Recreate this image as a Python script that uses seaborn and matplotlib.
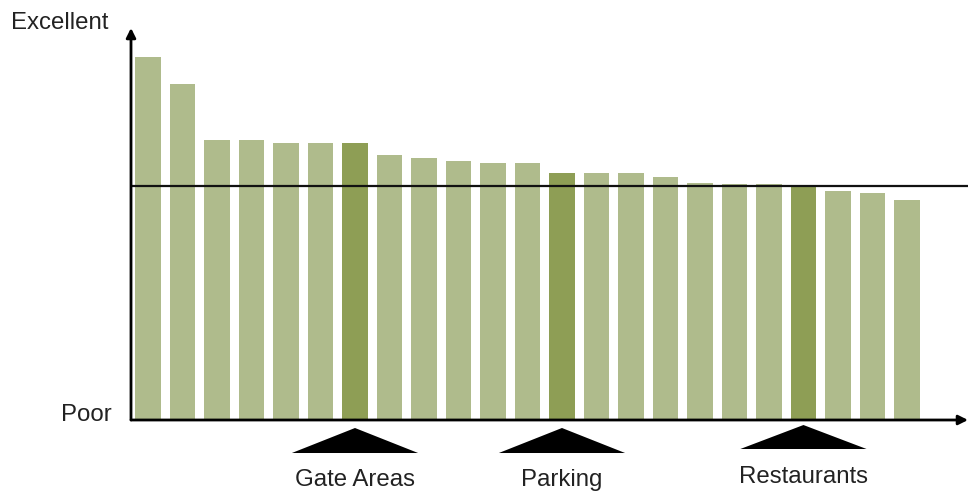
import matplotlib
matplotlib.use("Agg")
import matplotlib.pyplot as plt
import matplotlib.transforms as mtransforms
from matplotlib.patches import Polygon
import seaborn as sns
import pandas as pd

# ---- data ----
scores = [92.6, 85.7, 71.4, 71.4, 70.7, 70.7, 70.7, 67.6, 66.8, 66.1, 65.6, 65.6,
          63.0, 63.0, 63.0, 62.0, 60.5, 60.2, 60.2, 59.5, 58.4, 57.9, 56.1]
average_score = 59.6
highlight_idx = [6, 12, 19]
highlight_names = ["Gate Areas", "Parking", "Restaurants"]
y_top_label = "Excellent"
y_bottom_label = "Poor"

# ---- style ----
sns.set_style("white")
plt.rcParams["font.family"] = ["Liberation Sans", "DejaVu Sans"]

light = "#afbb8c"
dark = "#8e9e55"

df = pd.DataFrame({
    "item": list(range(len(scores))),
    "score": scores,
    "group": ["focus" if i in highlight_idx else "other" for i in range(len(scores))],
})

W, H = 968, 492
fig = plt.figure(figsize=(W / 100, H / 100), dpi=100)
ax = fig.add_axes([131 / W, (H - 420) / H, (W - 131) / W, (420 - 28) / H])

sns.barplot(data=df, x="item", y="score", hue="group",
            palette={"focus": dark, "other": light}, dodge=False,
            width=0.75, legend=False, ax=ax, saturation=1, linewidth=0)

ax.set_xlim(-0.493, 23.77)
ax.set_ylim(0, 100)
ax.set_xticks([])
ax.set_yticks([])
ax.set_xlabel("")
ax.set_ylabel("")
for s in ax.spines.values():
    s.set_visible(False)

# average line
ax.axhline(average_score, color="#111111", lw=1.6, zorder=5)

# axes arrows
ax.annotate("", xy=(0, 1.0), xytext=(0, 0), xycoords="axes fraction",
            arrowprops=dict(arrowstyle="-|>", lw=2, color="black",
                            mutation_scale=14, shrinkA=0, shrinkB=0),
            annotation_clip=False, zorder=6)
ax.annotate("", xy=(1.0, 0), xytext=(0, 0), xycoords="axes fraction",
            arrowprops=dict(arrowstyle="-|>", lw=2, color="black",
                            mutation_scale=14, shrinkA=0, shrinkB=0),
            annotation_clip=False, zorder=6)

# axis end labels
fs = 17.3
fig.text(11 / W, (H - 29) / H, y_top_label, fontsize=fs, color="#222222",
         ha="left", va="baseline")
fig.text(112 / W, (H - 421) / H, y_bottom_label, fontsize=fs, color="#222222",
         ha="right", va="baseline")

# triangles + labels under highlighted bars
trans = mtransforms.blended_transform_factory(ax.transData, ax.transAxes)
half_w = 1.83
tri_y = {6: (-0.0204, -0.0842), 12: (-0.0204, -0.0842), 19: (-0.0128, -0.074)}
lab_y = {6: -0.168, 12: -0.168, 19: -0.161}
for i, name in zip(highlight_idx, highlight_names):
    apex, base = tri_y[i]
    tri = Polygon([(i - half_w, base), (i + half_w, base), (i, apex)],
                  closed=True, facecolor="black", edgecolor="none",
                  transform=trans, clip_on=False)
    ax.add_patch(tri)
    ax.text(i, lab_y[i], name, transform=trans, fontsize=fs, color="#222222",
            ha="center", va="baseline", clip_on=False)

fig.savefig("out.png", dpi=100)
